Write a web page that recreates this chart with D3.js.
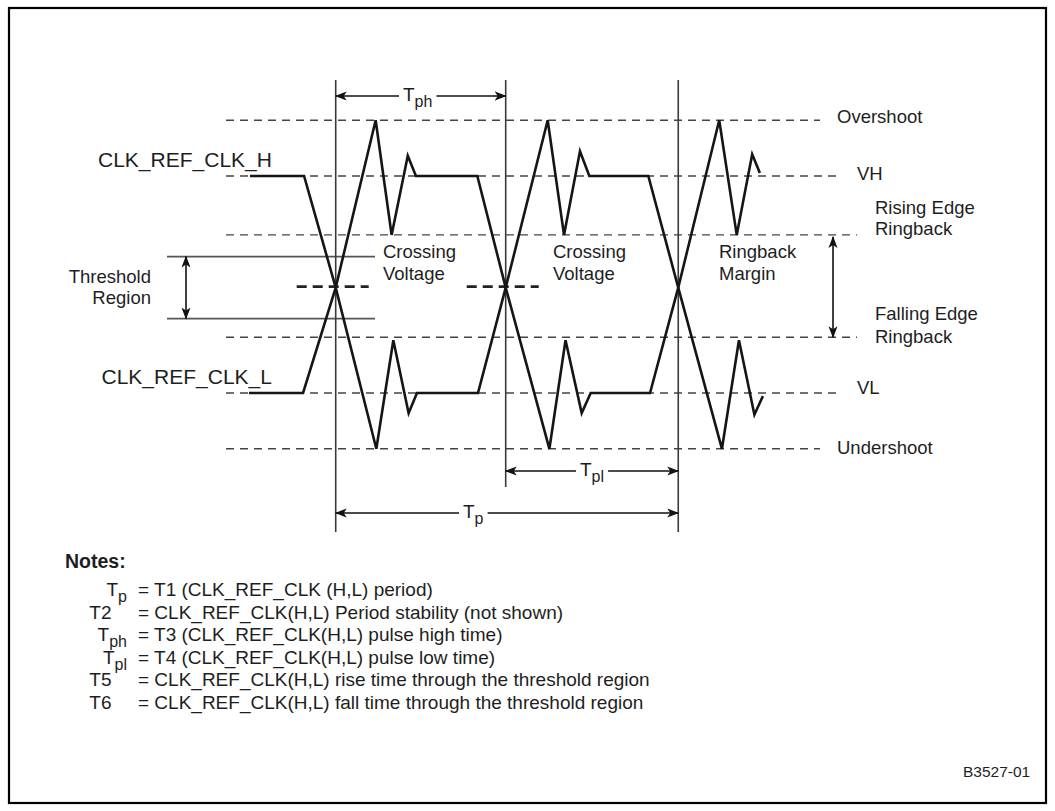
<!DOCTYPE html>
<html>
<head>
<meta charset="utf-8">
<title>CLK_REF_CLK differential clock timing</title>
<script src="https://cdn.jsdelivr.net/npm/d3@7"></script>
<style>
body { margin: 0; background: #fff; }
svg text { font-family: "Liberation Sans", Arial, Helvetica, sans-serif; fill: #1e1e1e; }
</style>
</head>
<body>
<div id="chart"></div>
<script>
// voltage levels (V)
var levelNames = ["Overshoot", "VH", "Rising Edge Ringback", "Falling Edge Ringback", "VL", "Undershoot"];
var levelValues = [0.88, 0.70, 0.51, 0.18, 0.00, -0.18];
var thresholdRegion = [0.24, 0.44];
var crossingVoltage = 0.34;
var crossingTimes = [0, 10, 20.15]; // ns

// waveform points [t (ns), v (V)]
var clkH = [[-5.04, 0.70], [-1.86, 0.70], [0, 0.34], [2.39, -0.18], [3.39, 0.17], [4.29, -0.065],
  [4.78, 0], [8.37, 0], [10, 0.34], [12.47, 0.88], [13.43, 0.51], [14.37, 0.78], [14.92, 0.70],
  [18.39, 0.70], [20.15, 0.34], [22.72, -0.18], [23.72, 0.17], [24.63, -0.07], [25.13, -0.01]];
var clkL = [[-5.1, 0], [-1.92, 0], [0, 0.34], [2.35, 0.88], [3.29, 0.51], [4.24, 0.765], [4.72, 0.70],
  [8.33, 0.70], [10, 0.34], [12.57, -0.18], [13.52, 0.17], [14.47, -0.065], [15.0, 0], [18.49, 0],
  [20.15, 0.34], [22.56, 0.88], [23.59, 0.51], [24.5, 0.77], [24.95, 0.71]];

// notes
var noteSymbols = [["T", "p"], ["T2", ""], ["T", "ph"], ["T", "pl"], ["T5", ""], ["T6", ""]];
var noteTexts = [
  "= T1 (CLK_REF_CLK (H,L) period)",
  "= CLK_REF_CLK(H,L) Period stability (not shown)",
  "= T3 (CLK_REF_CLK(H,L) pulse high time)",
  "= T4 (CLK_REF_CLK(H,L) pulse low time)",
  "= CLK_REF_CLK(H,L) rise time through the threshold region",
  "= CLK_REF_CLK(H,L) fall time through the threshold region"
];

var w = 1055, h = 811;
var svg = d3.select("#chart").append("svg")
  .attr("width", w).attr("height", h);

var x = d3.scaleLinear().domain([0, 10]).range([335.7, 505.7]);
var y = d3.scaleLinear().domain([0, 0.7]).range([393, 176]);

var defs = svg.append("defs");
defs.append("marker")
  .attr("id", "head")
  .attr("viewBox", "0 -5 12 10")
  .attr("refX", 11).attr("refY", 0)
  .attr("markerUnits", "userSpaceOnUse")
  .attr("markerWidth", 12).attr("markerHeight", 10)
  .attr("orient", "auto-start-reverse")
  .append("path")
  .attr("d", "M0,-4.5L12,0L0,4.5L3,0Z")
  .attr("fill", "#111");

// frame
svg.append("rect")
  .attr("x", 9).attr("y", 8).attr("width", 1037).attr("height", 795)
  .attr("fill", "none").attr("stroke", "#000").attr("stroke-width", 2.2);

// dashed level lines
var lineEnd = { "Overshoot": 820, "Undershoot": 820, "VH": 842, "VL": 842,
  "Rising Edge Ringback": 857, "Falling Edge Ringback": 857 };
svg.selectAll(".level")
  .data(levelNames)
  .enter().append("line")
  .attr("class", "level")
  .attr("x1", 226)
  .attr("x2", function(d) { return lineEnd[d]; })
  .attr("y1", function(d, i) { return y(levelValues[i]); })
  .attr("y2", function(d, i) { return y(levelValues[i]); })
  .attr("stroke", "#444").attr("stroke-width", 1.4)
  .attr("stroke-dasharray", "8,6");

// level labels
var labelPos = {
  "Overshoot": [837, [123]],
  "VH": [857, [180]],
  "Rising Edge Ringback": [875, [214, 235]],
  "Falling Edge Ringback": [875, [320, 343]],
  "VL": [857, [394]],
  "Undershoot": [837, [454]]
};
levelNames.forEach(function(name) {
  var p = labelPos[name];
  var lines = name.indexOf("Ringback") > 0 ? [name.replace(" Ringback", ""), "Ringback"] : [name];
  lines.forEach(function(s, j) {
    svg.append("text").attr("x", p[0]).attr("y", p[1][j])
      .attr("font-size", 18.5).text(s);
  });
});

// threshold region lines
svg.selectAll(".thr")
  .data(thresholdRegion)
  .enter().append("line")
  .attr("class", "thr")
  .attr("x1", 167).attr("x2", 375)
  .attr("y1", function(d) { return y(d); })
  .attr("y2", function(d) { return y(d); })
  .attr("stroke", "#555").attr("stroke-width", 1.6);

svg.append("line")
  .attr("x1", 186).attr("x2", 186)
  .attr("y1", y(thresholdRegion[1])).attr("y2", y(thresholdRegion[0]))
  .attr("stroke", "#111").attr("stroke-width", 1.6)
  .attr("marker-start", "url(#head)").attr("marker-end", "url(#head)");

svg.append("text").attr("x", 151).attr("y", 283).attr("text-anchor", "end")
  .attr("font-size", 18.5).text("Threshold");
svg.append("text").attr("x", 151).attr("y", 304).attr("text-anchor", "end")
  .attr("font-size", 18.5).text("Region");

// ringback margin arrow
svg.append("line")
  .attr("x1", 833).attr("x2", 833)
  .attr("y1", y(levelValues[2]) + 2).attr("y2", y(levelValues[3]))
  .attr("stroke", "#111").attr("stroke-width", 1.6)
  .attr("marker-start", "url(#head)").attr("marker-end", "url(#head)");

// crossing-point vertical lines
var vBottom = [532, 487, 532];
svg.selectAll(".cross")
  .data(crossingTimes)
  .enter().append("line")
  .attr("class", "cross")
  .attr("x1", function(d) { return x(d); })
  .attr("x2", function(d) { return x(d); })
  .attr("y1", 80)
  .attr("y2", function(d, i) { return vBottom[i]; })
  .attr("stroke", "#3a3a3a").attr("stroke-width", 1.6);

// crossing voltage short dashes
svg.selectAll(".cv")
  .data(crossingTimes.slice(0, 2))
  .enter().append("line")
  .attr("class", "cv")
  .attr("x1", function(d) { return x(d) - 39; })
  .attr("x2", function(d) { return x(d) + 33; })
  .attr("y1", y(crossingVoltage) - 1)
  .attr("y2", y(crossingVoltage) - 1)
  .attr("stroke", "#222").attr("stroke-width", 2.6)
  .attr("stroke-dasharray", "10,6");

// waveforms
var line = d3.line()
  .x(function(d) { return x(d[0]); })
  .y(function(d) { return y(d[1]); });

[clkH, clkL].forEach(function(s) {
  svg.append("path")
    .attr("d", line(s))
    .attr("fill", "none")
    .attr("stroke", "#151515")
    .attr("stroke-width", 2.6)
    .attr("stroke-linejoin", "miter");
});

svg.append("text").attr("x", 98).attr("y", 167).attr("font-size", 21).text("CLK_REF_CLK_H");
svg.append("text").attr("x", 101.5).attr("y", 384).attr("font-size", 21).text("CLK_REF_CLK_L");

// in-plot labels
var midLabels = [[383, ["Crossing", "Voltage"]], [553, ["Crossing", "Voltage"]], [719, ["Ringback", "Margin"]]];
midLabels.forEach(function(m) {
  m[1].forEach(function(s, j) {
    svg.append("text").attr("x", m[0]).attr("y", 258 + j * 22)
      .attr("font-size", 18.5).text(s);
  });
});

// dimension arrows
function dimArrow(t1, t2, yy, sub, tx) {
  var t = svg.append("text").attr("x", tx).attr("y", yy + 5).attr("font-size", 19);
  t.append("tspan").text("T");
  t.append("tspan").attr("dy", 6).attr("font-size", 16).text(sub);
  var bw = t.node().getBBox().width;
  svg.append("line")
    .attr("x1", x(t1)).attr("x2", tx - 4).attr("y1", yy).attr("y2", yy)
    .attr("stroke", "#111").attr("stroke-width", 1.6)
    .attr("marker-start", "url(#head)");
  svg.append("line")
    .attr("x1", tx + bw + 4).attr("x2", x(t2)).attr("y1", yy).attr("y2", yy)
    .attr("stroke", "#111").attr("stroke-width", 1.6)
    .attr("marker-end", "url(#head)");
}
dimArrow(crossingTimes[0], crossingTimes[1], 96, "ph", 403);
dimArrow(crossingTimes[1], crossingTimes[2], 471, "pl", 580);
dimArrow(crossingTimes[0], crossingTimes[2], 513, "p", 463);

// notes
svg.append("text").attr("x", 65).attr("y", 568)
  .attr("font-size", 19.5).attr("font-weight", "bold").text("Notes:");

noteTexts.forEach(function(s, i) {
  var by = 596 + i * 22.6;
  var sym = noteSymbols[i];
  var t = svg.append("text")
    .attr("x", sym[1] ? 127 : 111.5).attr("y", by)
    .attr("text-anchor", "end").attr("font-size", 19);
  t.append("tspan").text(sym[0]);
  if (sym[1]) t.append("tspan").attr("dy", 6).attr("font-size", 16).text(sym[1]);
  svg.append("text").attr("x", 138).attr("y", by).attr("font-size", 19).text(s);
});

svg.append("text").attr("x", 963).attr("y", 776.5).attr("font-size", 15.5).text("B3527-01");
</script>
</body>
</html>
